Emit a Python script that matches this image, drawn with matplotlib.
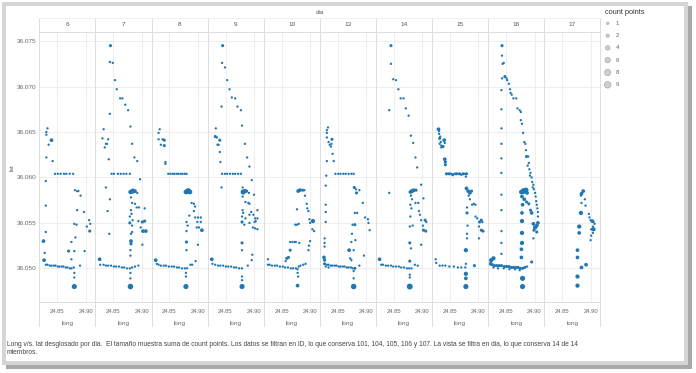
import matplotlib
matplotlib.use("Agg")
import matplotlib.pyplot as plt
from matplotlib.lines import Line2D
from matplotlib.patches import Rectangle

plt.rcParams['font.family'] = ['Liberation Sans', 'DejaVu Sans']

# data: (long, lat, count points) per dia
days = [6, 7, 8, 9, 10, 13, 14, 15, 16, 17]

pts_06 = [
    (24.833, 36.0654, 1), (24.831, 36.0650, 1), (24.831, 36.0647, 1), (24.840, 36.0641, 3), (24.835, 36.0636, 1),
    (24.831, 36.0622, 1), (24.842, 36.0618, 1), (24.830, 36.0596, 1),
    (24.846, 36.0604, 1), (24.851, 36.0604, 1), (24.856, 36.0604, 1), (24.862, 36.0604, 1), (24.866, 36.0604, 1),
    (24.872, 36.0604, 1), (24.878, 36.0604, 1),
    (24.881, 36.0586, 1), (24.885, 36.0585, 1), (24.887, 36.0585, 1), (24.891, 36.0580, 1),
    (24.885, 36.0564, 1), (24.897, 36.0562, 1), (24.906, 36.0553, 1), (24.908, 36.0549, 1), (24.902, 36.0546, 1),
    (24.907, 36.0541, 2), (24.880, 36.0549, 1), (24.884, 36.0548, 1), (24.882, 36.0534, 1), (24.875, 36.0529, 1),
    (24.870, 36.0519, 2), (24.880, 36.0519, 1), (24.898, 36.0519, 1), (24.875, 36.0510, 1), (24.890, 36.0503, 1),
    (24.830, 36.0569, 1), (24.830, 36.0540, 1), (24.826, 36.0530, 3), (24.828, 36.0517, 1), (24.827, 36.0509, 3),
    (24.830, 36.0504, 1), (24.833, 36.0504, 1), (24.837, 36.0503, 1), (24.840, 36.0503, 1), (24.844, 36.0503, 1),
    (24.847, 36.0503, 1), (24.851, 36.0502, 1), (24.854, 36.0502, 1), (24.858, 36.0502, 1), (24.861, 36.0502, 1),
    (24.865, 36.0501, 1), (24.868, 36.0501, 1), (24.872, 36.0500, 1), (24.875, 36.0500, 1), (24.879, 36.0501, 1),
    (24.880, 36.0495, 1), (24.880, 36.0490, 1), (24.880, 36.0480, 6),
]

pts_07 = [
    (24.845, 36.0745, 2), (24.844, 36.0727, 1), (24.849, 36.0726, 1), (24.853, 36.0707, 1), (24.856, 36.0697, 1),
    (24.862, 36.0687, 1), (24.866, 36.0687, 1), (24.871, 36.0680, 1), (24.876, 36.0674, 1), (24.844, 36.0670, 1),
    (24.880, 36.0656, 1), (24.833, 36.0653, 1), (24.831, 36.0643, 1), (24.841, 36.0642, 1), (24.837, 36.0637, 1),
    (24.839, 36.0637, 1), (24.835, 36.0633, 1), (24.883, 36.0637, 1), (24.842, 36.0620, 1), (24.887, 36.0622, 1),
    (24.892, 36.0618, 1),
    (24.847, 36.0604, 1), (24.851, 36.0604, 1), (24.858, 36.0604, 1), (24.863, 36.0604, 1), (24.868, 36.0604, 1),
    (24.873, 36.0604, 1), (24.879, 36.0604, 1),
    (24.897, 36.0598, 1), (24.837, 36.0589, 1), (24.844, 36.0576, 1), (24.840, 36.0563, 1), (24.843, 36.0538, 1),
    (24.880, 36.0584, 4), (24.884, 36.0585, 6), (24.888, 36.0585, 3), (24.892, 36.0583, 1),
    (24.881, 36.0578, 1), (24.883, 36.0572, 1), (24.888, 36.0571, 1), (24.891, 36.0567, 1), (24.895, 36.0567, 1),
    (24.905, 36.0566, 1), (24.881, 36.0564, 1), (24.882, 36.0560, 1), (24.879, 36.0557, 1),
    (24.879, 36.0550, 2), (24.884, 36.0553, 1), (24.883, 36.0547, 1), (24.894, 36.0552, 1), (24.901, 36.0551, 2),
    (24.905, 36.0552, 2), (24.898, 36.0545, 1), (24.902, 36.0541, 3), (24.907, 36.0541, 3),
    (24.883, 36.0540, 1), (24.881, 36.0538, 1), (24.881, 36.0530, 3), (24.881, 36.0527, 2), (24.901, 36.0526, 1),
    (24.880, 36.0520, 1), (24.880, 36.0514, 1),
    (24.826, 36.0510, 3), (24.827, 36.0504, 1),
    (24.833, 36.0504, 1), (24.837, 36.0503, 1), (24.841, 36.0503, 1), (24.846, 36.0503, 1), (24.851, 36.0502, 1),
    (24.855, 36.0502, 1), (24.860, 36.0502, 1), (24.865, 36.0501, 1), (24.869, 36.0501, 1), (24.874, 36.0500, 1),
    (24.879, 36.0500, 1), (24.883, 36.0501, 1), (24.888, 36.0502, 1), (24.894, 36.0503, 1),
    (24.880, 36.0495, 1), (24.880, 36.0489, 1), (24.880, 36.0480, 7),
]

pts_08 = [
    (24.833, 36.0653, 1), (24.831, 36.0649, 1), (24.831, 36.0642, 1), (24.838, 36.0642, 1), (24.841, 36.0641, 2),
    (24.835, 36.0636, 1), (24.841, 36.0635, 2), (24.843, 36.0617, 1), (24.843, 36.0615, 1),
    (24.848, 36.0604, 1), (24.852, 36.0604, 1), (24.856, 36.0604, 1), (24.859, 36.0604, 1), (24.863, 36.0604, 1),
    (24.866, 36.0604, 1), (24.870, 36.0604, 1), (24.873, 36.0604, 1), (24.877, 36.0604, 1), (24.880, 36.0604, 1),
    (24.879, 36.0584, 5), (24.883, 36.0585, 8), (24.886, 36.0584, 5),
    (24.889, 36.0572, 1), (24.893, 36.0571, 1), (24.895, 36.0568, 1), (24.893, 36.0563, 1), (24.885, 36.0558, 1),
    (24.895, 36.0556, 1), (24.900, 36.0556, 1), (24.905, 36.0556, 1), (24.880, 36.0551, 1), (24.882, 36.0547, 1),
    (24.899, 36.0551, 1), (24.905, 36.0551, 1), (24.898, 36.0545, 1), (24.902, 36.0545, 1), (24.907, 36.0542, 3),
    (24.880, 36.0541, 1), (24.880, 36.0529, 2), (24.880, 36.0520, 1), (24.900, 36.0526, 1), (24.896, 36.0508, 1),
    (24.826, 36.0509, 3), (24.828, 36.0505, 1),
    (24.831, 36.0504, 1), (24.835, 36.0503, 1), (24.840, 36.0503, 1), (24.844, 36.0503, 1), (24.849, 36.0502, 1),
    (24.854, 36.0502, 1), (24.858, 36.0502, 1), (24.863, 36.0501, 1), (24.867, 36.0501, 1), (24.872, 36.0500, 1),
    (24.877, 36.0500, 1), (24.881, 36.0500, 1), (24.887, 36.0504, 1), (24.890, 36.0504, 1),
    (24.879, 36.0495, 1), (24.879, 36.0491, 1), (24.879, 36.0480, 6),
]

pts_09 = [
    (24.845, 36.0745, 2), (24.844, 36.0726, 1), (24.849, 36.0721, 1), (24.853, 36.0707, 1), (24.857, 36.0697, 1),
    (24.861, 36.0688, 1), (24.867, 36.0687, 1), (24.843, 36.0678, 1), (24.871, 36.0678, 1), (24.877, 36.0674, 1),
    (24.879, 36.0657, 1), (24.833, 36.0654, 1), (24.832, 36.0645, 2), (24.835, 36.0644, 1), (24.840, 36.0641, 2),
    (24.838, 36.0636, 1), (24.836, 36.0636, 1), (24.840, 36.0628, 1), (24.884, 36.0637, 1), (24.841, 36.0617, 1),
    (24.888, 36.0622, 1), (24.892, 36.0612, 1), (24.896, 36.0597, 1),
    (24.844, 36.0604, 1), (24.849, 36.0604, 1), (24.853, 36.0604, 1), (24.858, 36.0604, 1), (24.863, 36.0604, 1),
    (24.867, 36.0604, 1), (24.872, 36.0604, 1), (24.877, 36.0604, 1),
    (24.843, 36.0589, 1),
    (24.880, 36.0589, 1), (24.881, 36.0584, 6), (24.884, 36.0585, 4), (24.887, 36.0585, 2), (24.891, 36.0583, 1),
    (24.880, 36.0579, 1), (24.885, 36.0573, 1), (24.890, 36.0572, 1), (24.892, 36.0571, 1), (24.900, 36.0581, 1),
    (24.880, 36.0564, 1), (24.881, 36.0561, 1), (24.895, 36.0562, 1), (24.906, 36.0564, 1), (24.892, 36.0559, 1),
    (24.899, 36.0559, 1), (24.879, 36.0557, 1), (24.885, 36.0555, 1), (24.902, 36.0555, 1), (24.906, 36.0555, 1),
    (24.879, 36.0551, 2), (24.883, 36.0548, 1), (24.892, 36.0550, 1), (24.901, 36.0551, 1), (24.903, 36.0552, 1),
    (24.898, 36.0545, 1), (24.902, 36.0544, 1), (24.906, 36.0543, 1), (24.879, 36.0528, 2), (24.879, 36.0520, 1),
    (24.897, 36.0515, 1), (24.896, 36.0509, 1),
    (24.826, 36.0510, 3), (24.827, 36.0505, 1),
    (24.832, 36.0504, 1), (24.837, 36.0503, 1), (24.841, 36.0503, 1), (24.846, 36.0503, 1), (24.851, 36.0502, 1),
    (24.855, 36.0502, 1), (24.860, 36.0502, 1), (24.865, 36.0501, 1), (24.869, 36.0501, 1), (24.874, 36.0500, 1),
    (24.879, 36.0500, 1), (24.889, 36.0503, 1),
    (24.879, 36.0491, 1), (24.879, 36.0487, 1), (24.879, 36.0480, 6),
]

pts_10 = [
    (24.826, 36.0510, 1), (24.826, 36.0504, 1),
    (24.829, 36.0504, 1), (24.833, 36.0503, 1), (24.838, 36.0503, 1), (24.842, 36.0503, 1), (24.847, 36.0502, 1),
    (24.852, 36.0502, 1), (24.856, 36.0501, 1), (24.861, 36.0501, 1), (24.866, 36.0500, 1), (24.870, 36.0500, 1),
    (24.875, 36.0500, 1), (24.880, 36.0502, 1), (24.883, 36.0503, 1), (24.888, 36.0504, 1), (24.892, 36.0505, 1),
    (24.857, 36.0508, 1), (24.859, 36.0511, 2), (24.862, 36.0512, 2), (24.865, 36.0520, 2),
    (24.865, 36.0529, 1), (24.869, 36.0529, 1), (24.873, 36.0529, 1), (24.875, 36.0529, 1), (24.881, 36.0528, 1),
    (24.877, 36.0548, 1), (24.874, 36.0548, 1), (24.880, 36.0549, 1), (24.877, 36.0565, 1),
    (24.879, 36.0585, 3), (24.882, 36.0586, 3), (24.887, 36.0586, 2), (24.890, 36.0586, 1), (24.891, 36.0580, 1),
    (24.894, 36.0571, 1), (24.895, 36.0566, 1), (24.897, 36.0563, 1), (24.899, 36.0554, 1), (24.900, 36.0550, 1),
    (24.905, 36.0552, 4), (24.904, 36.0543, 1), (24.907, 36.0541, 1),
    (24.900, 36.0530, 1), (24.898, 36.0525, 1), (24.897, 36.0520, 1),
    (24.878, 36.0499, 1), (24.878, 36.0495, 1), (24.879, 36.0491, 1), (24.878, 36.0481, 3),
]

pts_13 = [
    (24.833, 36.0655, 1), (24.831, 36.0652, 1), (24.831, 36.0649, 1), (24.831, 36.0644, 1), (24.834, 36.0639, 1),
    (24.836, 36.0636, 1), (24.839, 36.0637, 1), (24.840, 36.0642, 2), (24.838, 36.0634, 1),
    (24.831, 36.0618, 1), (24.841, 36.0626, 1), (24.843, 36.0618, 1), (24.830, 36.0602, 1), (24.829, 36.0591, 1),
    (24.829, 36.0570, 1), (24.829, 36.0562, 1), (24.829, 36.0551, 1),
    (24.846, 36.0604, 1), (24.851, 36.0604, 1), (24.855, 36.0604, 1), (24.860, 36.0604, 1), (24.864, 36.0604, 1),
    (24.869, 36.0604, 1), (24.874, 36.0604, 1), (24.878, 36.0604, 1),
    (24.879, 36.0589, 2), (24.882, 36.0587, 1), (24.883, 36.0583, 2), (24.888, 36.0586, 1),
    (24.894, 36.0572, 1), (24.898, 36.0556, 1), (24.903, 36.0554, 1), (24.904, 36.0550, 1), (24.906, 36.0542, 1),
    (24.880, 36.0561, 1), (24.884, 36.0561, 1), (24.876, 36.0548, 1), (24.880, 36.0548, 2), (24.875, 36.0538, 1),
    (24.881, 36.0531, 1), (24.874, 36.0529, 1), (24.896, 36.0514, 1), (24.870, 36.0520, 3), (24.878, 36.0520, 1),
    (24.872, 36.0511, 1), (24.874, 36.0509, 1), (24.888, 36.0503, 1),
    (24.827, 36.0533, 1), (24.827, 36.0528, 1), (24.827, 36.0524, 1), (24.826, 36.0512, 3), (24.827, 36.0509, 2),
    (24.827, 36.0505, 2), (24.831, 36.0504, 1), (24.834, 36.0504, 1), (24.838, 36.0503, 1), (24.841, 36.0503, 1),
    (24.845, 36.0503, 1), (24.848, 36.0503, 1), (24.852, 36.0502, 1), (24.855, 36.0502, 1), (24.859, 36.0502, 1),
    (24.862, 36.0502, 1), (24.866, 36.0501, 1), (24.869, 36.0501, 1), (24.873, 36.0501, 1), (24.876, 36.0500, 1),
    (24.880, 36.0500, 2), (24.829, 36.0502, 1), (24.834, 36.0501, 1), (24.878, 36.0497, 1),
    (24.878, 36.0489, 1), (24.878, 36.0480, 7),
]

pts_14 = [
    (24.845, 36.0745, 2), (24.845, 36.0725, 1), (24.849, 36.0708, 1), (24.854, 36.0707, 1), (24.858, 36.0697, 1),
    (24.862, 36.0687, 1), (24.867, 36.0687, 1), (24.871, 36.0676, 1), (24.876, 36.0668, 1), (24.842, 36.0674, 1),
    (24.880, 36.0646, 1), (24.884, 36.0638, 1), (24.888, 36.0622, 1), (24.891, 36.0611, 1), (24.898, 36.0592, 1),
    (24.842, 36.0583, 1),
    (24.879, 36.0584, 3), (24.882, 36.0585, 4), (24.885, 36.0586, 3), (24.889, 36.0586, 2),
    (24.880, 36.0580, 1), (24.882, 36.0576, 1), (24.902, 36.0577, 1), (24.888, 36.0572, 1), (24.893, 36.0572, 1),
    (24.879, 36.0570, 1), (24.881, 36.0566, 1), (24.894, 36.0563, 1), (24.896, 36.0559, 1), (24.898, 36.0553, 1),
    (24.905, 36.0553, 2), (24.907, 36.0551, 1), (24.879, 36.0557, 1), (24.878, 36.0546, 1), (24.883, 36.0547, 1),
    (24.901, 36.0547, 1), (24.902, 36.0542, 2), (24.906, 36.0541, 2), (24.898, 36.0526, 1), (24.878, 36.0528, 2),
    (24.880, 36.0522, 1), (24.878, 36.0508, 2),
    (24.825, 36.0510, 3), (24.828, 36.0504, 1),
    (24.831, 36.0504, 1), (24.836, 36.0503, 1), (24.840, 36.0503, 1), (24.845, 36.0503, 1), (24.849, 36.0502, 1),
    (24.854, 36.0502, 1), (24.859, 36.0502, 1), (24.863, 36.0501, 1), (24.868, 36.0501, 1), (24.873, 36.0500, 1),
    (24.877, 36.0500, 1), (24.881, 36.0500, 1), (24.887, 36.0504, 1), (24.892, 36.0503, 1),
    (24.878, 36.0493, 1), (24.878, 36.0490, 1), (24.878, 36.0480, 8),
]

pts_15 = [
    (24.830, 36.0653, 3), (24.831, 36.0651, 1), (24.831, 36.0648, 1), (24.833, 36.0645, 1), (24.832, 36.0643, 2),
    (24.834, 36.0639, 1), (24.832, 36.0637, 1), (24.835, 36.0635, 1), (24.840, 36.0641, 3), (24.841, 36.0638, 1),
    (24.838, 36.0634, 2), (24.835, 36.0633, 1),
    (24.841, 36.0620, 3), (24.842, 36.0617, 2), (24.842, 36.0614, 2),
    (24.844, 36.0604, 2), (24.847, 36.0604, 1), (24.849, 36.0604, 2), (24.852, 36.0604, 1), (24.855, 36.0603, 2),
    (24.858, 36.0604, 1), (24.861, 36.0604, 2), (24.864, 36.0604, 1), (24.867, 36.0604, 2), (24.870, 36.0603, 1),
    (24.873, 36.0604, 2), (24.876, 36.0604, 1), (24.879, 36.0604, 2),
    (24.878, 36.0601, 1),
    (24.879, 36.0588, 3), (24.882, 36.0585, 3), (24.885, 36.0583, 3), (24.888, 36.0585, 2), (24.883, 36.0580, 1),
    (24.885, 36.0576, 1), (24.889, 36.0570, 1), (24.892, 36.0571, 1), (24.895, 36.0570, 1), (24.880, 36.0567, 1),
    (24.880, 36.0561, 2), (24.895, 36.0557, 1), (24.898, 36.0555, 1), (24.905, 36.0553, 2), (24.907, 36.0551, 1),
    (24.902, 36.0551, 2), (24.901, 36.0546, 1), (24.905, 36.0542, 2), (24.908, 36.0541, 2), (24.901, 36.0533, 1),
    (24.881, 36.0547, 1), (24.880, 36.0538, 1), (24.880, 36.0533, 1), (24.878, 36.0520, 4),
    (24.825, 36.0510, 1), (24.826, 36.0506, 1), (24.832, 36.0503, 1), (24.837, 36.0503, 1), (24.842, 36.0503, 1),
    (24.849, 36.0502, 1), (24.857, 36.0502, 1), (24.864, 36.0501, 1), (24.870, 36.0501, 1), (24.877, 36.0501, 1),
    (24.893, 36.0503, 2), (24.878, 36.0505, 1),
    (24.878, 36.0494, 4), (24.878, 36.0489, 3), (24.878, 36.0480, 6),
]

pts_16 = [
    (24.843, 36.0745, 2), (24.843, 36.0734, 1), (24.844, 36.0725, 1), (24.846, 36.0726, 1), (24.843, 36.0709, 1),
    (24.848, 36.0711, 2), (24.851, 36.0709, 1), (24.852, 36.0707, 1), (24.855, 36.0703, 1), (24.857, 36.0697, 1),
    (24.858, 36.0693, 1), (24.860, 36.0691, 1), (24.863, 36.0687, 1), (24.868, 36.0687, 1), (24.842, 36.0696, 1),
    (24.870, 36.0676, 1), (24.874, 36.0674, 1), (24.876, 36.0672, 1), (24.876, 36.0663, 1), (24.878, 36.0659, 1),
    (24.842, 36.0675, 1),
    (24.880, 36.0649, 1), (24.882, 36.0639, 1), (24.884, 36.0637, 1), (24.886, 36.0623, 2), (24.889, 36.0623, 1),
    (24.888, 36.0613, 1), (24.891, 36.0609, 1), (24.893, 36.0605, 1),
    (24.895, 36.0600, 1), (24.896, 36.0595, 1), (24.898, 36.0592, 1), (24.899, 36.0587, 1), (24.901, 36.0583, 1),
    (24.902, 36.0579, 1), (24.903, 36.0574, 1), (24.904, 36.0570, 1), (24.905, 36.0566, 1), (24.906, 36.0562, 1),
    (24.906, 36.0557, 1), (24.885, 36.0630, 1), (24.890, 36.0616, 1), (24.892, 36.0602, 1), (24.897, 36.0589, 1),
    (24.842, 36.0654, 1), (24.842, 36.0637, 1), (24.842, 36.0621, 1), (24.842, 36.0605, 1), (24.842, 36.0581, 1),
    (24.842, 36.0564, 1), (24.842, 36.0541, 1), (24.842, 36.0528, 1), (24.842, 36.0516, 1),
    (24.828, 36.0511, 4), (24.824, 36.0509, 4), (24.823, 36.0505, 3),
    (24.826, 36.0504, 2), (24.830, 36.0503, 2), (24.834, 36.0503, 2), (24.838, 36.0503, 2), (24.842, 36.0503, 2),
    (24.847, 36.0502, 2), (24.851, 36.0502, 2), (24.855, 36.0502, 2), (24.859, 36.0501, 2), (24.863, 36.0501, 2),
    (24.867, 36.0501, 2), (24.871, 36.0501, 2), (24.875, 36.0500, 2), (24.879, 36.0500, 2), (24.883, 36.0501, 2),
    (24.887, 36.0502, 1), (24.828, 36.0501, 1), (24.836, 36.0500, 1), (24.846, 36.0500, 1), (24.856, 36.0499, 1),
    (24.866, 36.0499, 1), (24.874, 36.0498, 1),
    (24.895, 36.0507, 2),
    (24.877, 36.0584, 5), (24.881, 36.0585, 8), (24.885, 36.0586, 6), (24.887, 36.0583, 3),
    (24.878, 36.0579, 3), (24.882, 36.0576, 3), (24.886, 36.0573, 2), (24.890, 36.0571, 2), (24.879, 36.0570, 3),
    (24.893, 36.0564, 2), (24.895, 36.0561, 3),
    (24.878, 36.0561, 3), (24.878, 36.0552, 4), (24.878, 36.0539, 4), (24.878, 36.0528, 4), (24.877, 36.0521, 3),
    (24.877, 36.0512, 3),
    (24.898, 36.0549, 3), (24.901, 36.0545, 4), (24.904, 36.0547, 3), (24.906, 36.0550, 3), (24.899, 36.0542, 2),
    (24.904, 36.0540, 2), (24.898, 36.0533, 1),
    (24.879, 36.0489, 6), (24.879, 36.0480, 6),
]

pts_17 = [
    (24.887, 36.0585, 3), (24.884, 36.0582, 3), (24.883, 36.0580, 1), (24.884, 36.0572, 1), (24.890, 36.0576, 1),
    (24.891, 36.0569, 1), (24.883, 36.0561, 4),
    (24.897, 36.0560, 1), (24.898, 36.0556, 1), (24.900, 36.0553, 1), (24.903, 36.0552, 3), (24.905, 36.0551, 1),
    (24.907, 36.0549, 1), (24.904, 36.0546, 1), (24.901, 36.0543, 1), (24.905, 36.0543, 4), (24.904, 36.0539, 1),
    (24.901, 36.0536, 1), (24.900, 36.0531, 1),
    (24.880, 36.0546, 4), (24.880, 36.0539, 3), (24.877, 36.0520, 3), (24.877, 36.0512, 3), (24.884, 36.0501, 3),
    (24.892, 36.0504, 3), (24.877, 36.0491, 4), (24.877, 36.0481, 4),
]

all_pts = [pts_06, pts_07, pts_08, pts_09, pts_10, pts_13, pts_14, pts_15, pts_16, pts_17]

legend_counts = [1, 2, 4, 6, 8, 9]
x_ticks = [24.85, 24.90]
y_ticks = [36.050, 36.055, 36.060, 36.065, 36.070, 36.075]

caption = ("Long v/s. lat desglosado por dia.  El tamaño muestra suma de count points. Los datos se filtran en ID, "
           "lo que conserva 101, 104, 105, 106 y 107. La vista se filtra en dia, lo que conserva 14 de 14\nmiembros.")

W, H = 696, 373
BLUE = '#1f77b4'
GRID = '#eeeeee'
SEP = '#dddddd'
TXT = '#666666'


def size(n):
    return 2.8 + 2.2 * (n - 1)


def fx(x):
    return x / W


def fy(y):
    return 1 - y / H


fig = plt.figure(figsize=(W / 100, H / 100), dpi=100)

# screenshot frame
fig.patches.append(Rectangle((fx(6), fy(369)), fx(686), 363 / H, transform=fig.transFigure,
                             facecolor='#a9a9a9', edgecolor='none', zorder=-3))
fig.patches.append(Rectangle((fx(2), fy(365)), fx(686), 363 / H, transform=fig.transFigure,
                             facecolor='#d5d5d5', edgecolor='none', zorder=-2))
fig.patches.append(Rectangle((fx(6), fy(361)), fx(678), 355 / H, transform=fig.transFigure,
                             facecolor='white', edgecolor='none', zorder=-1))

left0, pw = 39.3, 56.1
top, bottom = 32, 302

for i, (d, pts) in enumerate(zip(days, all_pts)):
    ax = fig.add_axes([fx(left0 + i * pw), fy(bottom), pw / W, (bottom - top) / H])
    ax.set_facecolor('none')
    lon = [p[0] for p in pts]
    lat = [p[1] for p in pts]
    cnt = [size(p[2]) for p in pts]
    ax.scatter(lon, lat, s=cnt, color=BLUE, edgecolors='none', zorder=3)
    ax.set_xlim(24.8186, 24.917)
    ax.set_ylim(36.0463, 36.0760)
    ax.set_xticks(x_ticks)
    ax.set_xticklabels(['24.85', '24.90'])
    ax.set_yticks(y_ticks)
    ax.grid(True, color=GRID, linewidth=0.8, zorder=0)
    ax.tick_params(length=0, labelsize=4.2, colors=TXT, pad=5)
    if i == 0:
        ax.set_yticklabels(['%.3f' % v for v in y_ticks])
        ax.tick_params(axis='y', pad=2, labelsize=4.6)
    else:
        ax.set_yticklabels([])
    for side in ['left', 'right', 'top']:
        ax.spines[side].set_visible(False)
    ax.spines['bottom'].set_color(SEP)
    ax.spines['bottom'].set_linewidth(0.7)
    cx = left0 + (i + 0.5) * pw
    fig.text(fx(cx), fy(25), str(d), ha='center', va='center', fontsize=4.6, color='#555555')
    fig.text(fx(cx), fy(323), 'long', ha='center', va='center', fontsize=4.6, color=TXT)

# panel separators and header lines
for i in range(len(days) + 1):
    x = fx(left0 + i * pw)
    fig.add_artist(Line2D([x, x], [fy(18), fy(326)], color=SEP, linewidth=0.7))
fig.add_artist(Line2D([fx(left0), fx(left0 + 10 * pw)], [fy(32), fy(32)], color=SEP, linewidth=0.7))
fig.add_artist(Line2D([fx(left0), fx(left0 + 10 * pw)], [fy(18), fy(18)], color='#eeeeee', linewidth=0.6))

fig.text(fx(320), fy(13), 'dia', ha='center', va='center', fontsize=4.6, color='#555555')
fig.text(fx(12), fy(168), 'lat', ha='center', va='center', rotation=90, fontsize=4.6, color=TXT)

# size legend
lax = fig.add_axes([fx(600), fy(92), 50 / W, 76 / H])
lax.set_xlim(0, 50)
lax.set_ylim(92, 16)
lax.axis('off')
ly = [23.3 + k * 12.3 for k in range(len(legend_counts))]
lax.scatter([7.7] * len(legend_counts), ly, s=[size(c) * 1.1 for c in legend_counts],
            color='#cfcfcf', edgecolors='#9a9a9a', linewidths=0.4)
for c, y in zip(legend_counts, ly):
    lax.text(15.5, y, str(c), va='center', ha='left', fontsize=4.4, color=TXT)
fig.text(fx(625), fy(12.5), 'count points', ha='center', va='center', fontsize=5.3, color='#333333')

fig.text(fx(7), fy(341), caption, ha='left', va='top', fontsize=4.8, color='#444444', linespacing=1.2)

fig.savefig('out.png', dpi=100)
